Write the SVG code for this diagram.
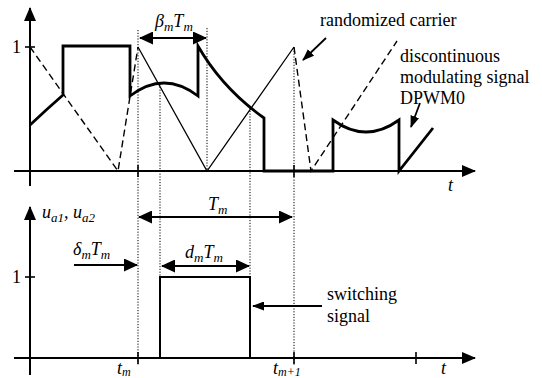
<svg xmlns="http://www.w3.org/2000/svg" width="542" height="378" viewBox="0 0 542 378">
<style>
text{font-family:"Liberation Serif","Times New Roman",serif;font-size:18px;fill:#000}
.it{font-style:italic}
.axis{stroke:#000;stroke-width:2;fill:none}
.tick{stroke:#000;stroke-width:1.6;fill:none}
.mod{stroke:#000;stroke-width:2.8;fill:none;stroke-linejoin:miter}
.car{stroke:#000;stroke-width:1.3;fill:none}
.dash{stroke:#000;stroke-width:1.4;fill:none;stroke-dasharray:7 4}
.dot{stroke:#000;stroke-width:1;fill:none;stroke-dasharray:1.2 1.6}
.arr{stroke:#000;stroke-width:2;fill:none}
.arrs{stroke:#000;stroke-width:1.8;fill:none}
</style>
<defs>
<marker id="big" viewBox="0 0 14 13" refX="13" refY="6.5" markerWidth="14" markerHeight="13" markerUnits="userSpaceOnUse" orient="auto-start-reverse"><path d="M0,0 L14,6.5 L0,13 z" fill="#000"/></marker>
<marker id="ax" viewBox="0 0 14 12" refX="13" refY="6" markerWidth="14" markerHeight="12" markerUnits="userSpaceOnUse" orient="auto"><path d="M0,0 L14,6 L0,12 z" fill="#000"/></marker>
<marker id="sm" viewBox="0 0 12 9" refX="11" refY="4.5" markerWidth="12" markerHeight="9" markerUnits="userSpaceOnUse" orient="auto"><path d="M0,0 L12,4.5 L0,9 z" fill="#000"/></marker>
</defs>

<g id="top-plot">
<g id="top-axes">
<line class="axis" x1="30" y1="186" x2="30" y2="8" marker-end="url(#ax)"/>
<line class="axis" x1="14" y1="171" x2="475" y2="171" marker-end="url(#ax)"/>
<line class="tick" x1="25" y1="47" x2="35" y2="47"/>
<line class="tick" x1="138" y1="165" x2="138" y2="177"/>
<line class="tick" x1="294" y1="165" x2="294" y2="177"/>
<text x="12" y="53">1</text>
<text class="it" x="448" y="191">t</text>
</g>
<g id="dotted-lines">
<line class="dot" x1="138" y1="30" x2="138" y2="365"/>
<line class="dot" x1="160" y1="84" x2="160" y2="277"/>
<line class="dot" x1="207" y1="28" x2="207" y2="171"/>
<line class="dot" x1="250" y1="108" x2="250" y2="358"/>
<line class="dot" x1="294" y1="48" x2="294" y2="365"/>
</g>
<g id="carrier">
<polyline class="dash" points="30,47 118,171 138,47"/>
<polyline class="car" points="138,47 207,171 294,47"/>
<polyline class="dash" points="294,47 311,171 397,41"/>
</g>
<g id="modulating-signal">
<path class="mod" d="M30,125 Q47,109 63,95 V46 H130 V96 Q164,70 198,96 V46 Q222,88 264,118 V171 H333 V120 Q366,144 399,120 V171 L433,128"/>
</g>
<g id="beta-label">
<line class="arr" x1="140" y1="38" x2="206" y2="38" marker-start="url(#big)" marker-end="url(#big)"/>
<text class="it" x="155" y="27">β<tspan font-size="13" dy="4">m</tspan><tspan dy="-4">T</tspan><tspan font-size="13" dy="4">m</tspan></text>
</g>
<g id="carrier-label">
<text x="320" y="26">randomized carrier</text>
<line class="arrs" x1="326" y1="38" x2="303" y2="60" marker-end="url(#sm)"/>
</g>
<g id="modulating-label">
<text x="400" y="62">discontinuous</text>
<text x="400" y="83">modulating signal</text>
<text x="400" y="104">DPWM0</text>
<line class="arrs" x1="420" y1="103" x2="411" y2="127" marker-end="url(#sm)"/>
</g>
</g>

<g id="bottom-plot">
<g id="bottom-axes">
<line class="axis" x1="30" y1="375" x2="30" y2="207" marker-end="url(#ax)"/>
<line class="axis" x1="14" y1="358" x2="475" y2="358" marker-end="url(#ax)"/>
<line class="tick" x1="25" y1="277" x2="35" y2="277"/>
<line class="tick" x1="138" y1="352" x2="138" y2="364"/>
<line class="tick" x1="294" y1="352" x2="294" y2="364"/>
<line class="tick" x1="416" y1="352" x2="416" y2="364"/>
<text x="12" y="283">1</text>
<text class="it" x="441" y="374">t</text>
<text class="it" x="42" y="218">u<tspan font-size="13" dy="4">a1</tspan><tspan dy="-4">, u</tspan><tspan font-size="13" dy="4">a2</tspan></text>
<text class="it" x="117" y="374">t<tspan font-size="12" dy="2">m</tspan></text>
<text class="it" x="273" y="374">t<tspan font-size="12" dy="2">m+1</tspan></text>
</g>
<g id="switching-signal">
<polyline class="arr" points="160,358 160,277 250,277 250,358"/>
</g>
<g id="Tm-label">
<line class="arr" x1="139" y1="217" x2="292" y2="217" marker-start="url(#big)" marker-end="url(#big)"/>
<text class="it" x="208" y="210">T<tspan font-size="13" dy="4">m</tspan></text>
</g>
<g id="delta-label">
<line class="arr" x1="74" y1="265" x2="137" y2="265" marker-end="url(#big)"/>
<text class="it" x="73" y="255">δ<tspan font-size="13" dy="4">m</tspan><tspan dy="-4">T</tspan><tspan font-size="13" dy="4">m</tspan></text>
</g>
<g id="d-label">
<line class="arr" x1="162" y1="266" x2="249" y2="266" marker-start="url(#big)" marker-end="url(#big)"/>
<text class="it" x="185" y="258">d<tspan font-size="13" dy="4">m</tspan><tspan dy="-4">T</tspan><tspan font-size="13" dy="4">m</tspan></text>
</g>
<g id="switching-label">
<text x="327" y="300">switching</text>
<text x="327" y="322">signal</text>
<line class="arrs" x1="322" y1="306" x2="253" y2="306" marker-end="url(#sm)"/>
</g>
</g>
</svg>
